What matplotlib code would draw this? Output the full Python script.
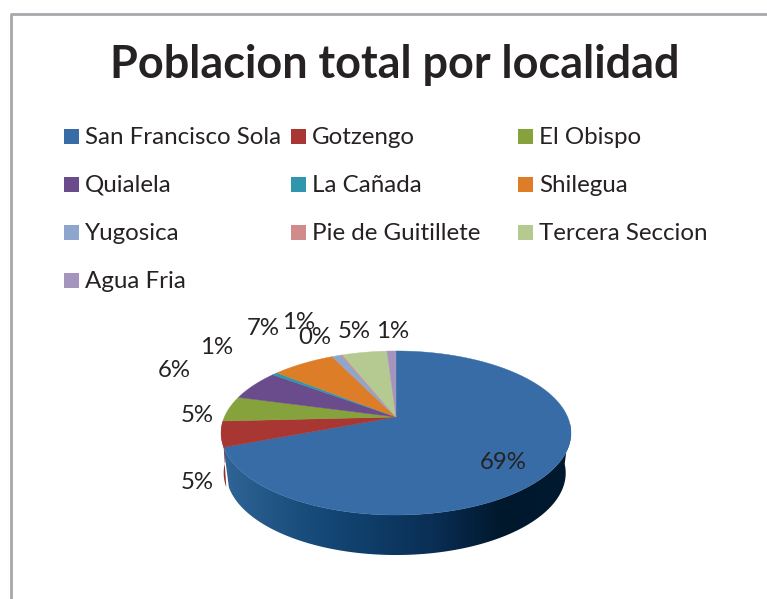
import numpy as np
import matplotlib
matplotlib.use('Agg')
import matplotlib.pyplot as plt
from matplotlib.patches import Polygon, Rectangle
from matplotlib.colors import LinearSegmentedColormap

# --- datos ---
TITULO = 'Poblacion total por localidad'
localidades = ['San Francisco Sola', 'Gotzengo', 'El Obispo', 'Quialela', 'La Cañada',
               'Shilegua', 'Yugosica', 'Pie de Guitillete', 'Tercera Seccion', 'Agua Fria']
porcentajes = [69.2, 5.0, 5.0, 6.0, 0.6, 7.0, 1.0, 0.2, 5.0, 1.0]
colores = ['#376CA6', '#A83733', '#85A23C', '#6A4C8C', '#3096AE',
           '#DD7D27', '#8EA6CE', '#D08C8C', '#B5CA91', '#A594BD']
etiquetas = ['69%', '5%', '5%', '6%', '1%', '7%', '1%', '0%', '5%', '1%']
etiqueta_x = [503, 197, 197, 174, 217, 263, 299, 315, 354, 393]
etiqueta_y = [461, 481, 414, 369, 346, 327, 321, 336, 330, 330]

# --- geometria del pastel 3D (pixeles) ---
CX, CY = 396, 417      # vertice de las rebanadas
RX, RY, K = 171.6, 78.9, 0.195
GROSOR = 40
TEXTO = '#262223'

plt.rcParams['font.family'] = ['Lato', 'DejaVu Sans']


def proyectar(grados, dy=0, escala=1.0):
    """Punto del borde del pastel con perspectiva."""
    a = np.radians(grados)
    u, v = np.cos(a), np.sin(a)
    w = 1 + K * v
    return CX + escala * RX * u / w, CY - RY * v / w + dy


fig = plt.figure(figsize=(7.67, 5.99), dpi=100)
ax = fig.add_axes([0, 0, 1, 1])
ax.axis('off')

# marco: izquierda y arriba, sale por la derecha
ax.plot([10.5, 10.5, 767], [599, 13.5, 13.5], color='#A6A8AB', lw=2)

ax.text(395, 65, TITULO, ha='center', va='center', fontsize=32.4, fontweight='bold', color=TEXTO)

# leyenda
col_x = [64, 291, 518]
fila_y = [136, 184, 232, 280]
for i, (nombre, color) in enumerate(zip(localidades, colores)):
    x, y = col_x[i % 3], fila_y[i // 3]
    ax.add_patch(Rectangle((x, y - 7.5), 15, 15, color=color, lw=0))
    ax.text(x + 21, y + 1.2, nombre, ha='left', va='center', fontsize=17.4, color=TEXTO)

# rebanadas
fracciones = np.array(porcentajes) / sum(porcentajes)
cortes = 90 - 360 * np.concatenate([[0], np.cumsum(fracciones)])

# pared lateral: degradado de izquierda a derecha, recortado a la forma de la pared
cmap = LinearSegmentedColormap.from_list('pared', ['#2F6496', '#1A4F7E', '#0F3F6A', '#0A2E55', '#00182C', '#001A30'])
ang = np.linspace(cortes[1], -5, 160)
sup = np.array([proyectar(a) for a in ang])
inf = np.array([proyectar(a, GROSOR, 0.97) for a in ang])
pared = Polygon(np.r_[sup, inf[::-1]], closed=True, facecolor='none', edgecolor='none', zorder=2)
ax.add_patch(pared)
img = ax.imshow(np.linspace(0, 1, 256)[None, :], cmap=cmap, extent=[225, 572, 560, 420], aspect='auto', zorder=2)
img.set_clip_path(pared)

# pared del rojo que asoma a la izquierda
ang = np.linspace(cortes[1], cortes[2], 20)
sup = np.array([proyectar(a) for a in ang])
inf = np.array([proyectar(a, GROSOR, 0.985) for a in ang])
ax.add_patch(Polygon(np.r_[sup, inf[::-1]], closed=True, color='#94302C', lw=0, zorder=1.5))

for i, color in enumerate(colores):
    ang = np.linspace(cortes[i], cortes[i + 1], max(int(abs(cortes[i] - cortes[i + 1])), 2) + 1)
    borde = [proyectar(a) for a in ang]
    ax.add_patch(Polygon([(CX, CY)] + borde, closed=True, facecolor=color, edgecolor=color, lw=0.3, zorder=3))

for txt, x, y in zip(etiquetas, etiqueta_x, etiqueta_y):
    ax.text(x, y + 1.2, txt, ha='center', va='center', fontsize=17.3, color=TEXTO, zorder=5)

ax.set_xlim(0, 767)
ax.set_ylim(599, 0)
fig.savefig('out.png', dpi=100)
